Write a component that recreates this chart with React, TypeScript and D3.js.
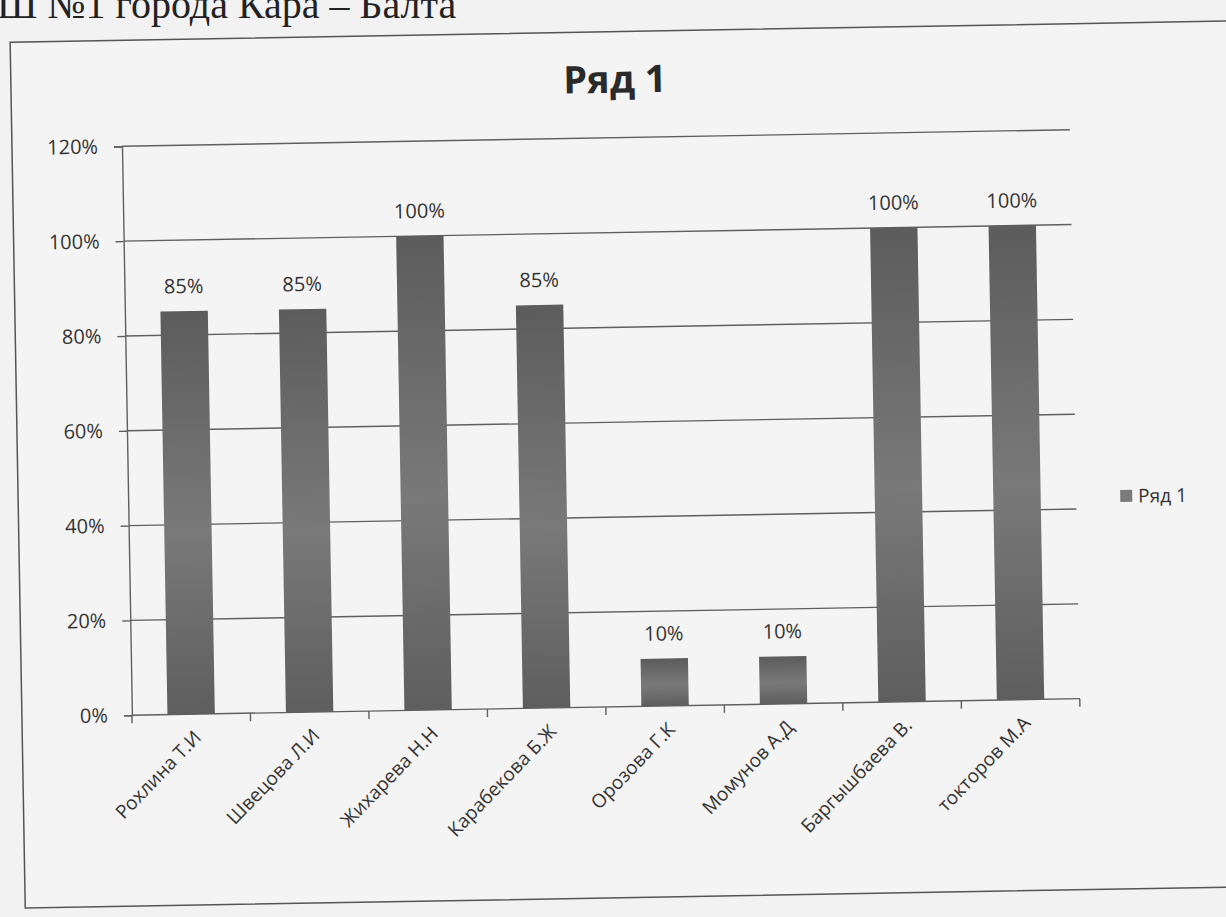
import React, { useEffect, useRef } from 'react';
import * as d3 from 'd3';

const categories = [
  'Рохлина Т.И',
  'Швецова Л.И',
  'Жихарева Н.Н',
  'Карабекова Б.Ж',
  'Орозова Г.К',
  'Момунов А.Д',
  'Баргышбаева В.',
  'токторов М.А',
];
const values = [0.85, 0.85, 1.0, 0.85, 0.1, 0.1, 1.0, 1.0];
const yTicks = [0, 0.2, 0.4, 0.6, 0.8, 1.0, 1.2];
const seriesName = 'Ряд 1';

const W = 1226;
const H = 917;
const FONT = '"Open Sans", "Noto Sans", sans-serif';
const INK = '#333';
const LINE = '#5f5f5f';

const App: React.FC = () => {
  const svgRef = useRef<SVGSVGElement | null>(null);

  useEffect(() => {
    if (!svgRef.current) return;
    const svg = d3.select(svgRef.current);
    svg.selectAll('*').remove();

    const left = 127, right = 1075, top = 138, bottom = 707;

    const x = d3.scaleBand().domain(categories).range([left, right])
      .paddingInner(0.6).paddingOuter(0.3);
    const y = d3.scaleLinear().domain([0, 1.2]).range([bottom, top]);
    const pct = d3.format('.0%');

    // paper
    svg.append('rect').attr('width', W).attr('height', H).attr('fill', '#f3f2f2');

    // scanned heading above the chart, cut at the top edge
    svg.append('text')
      .attr('x', -3).attr('y', 18)
      .attr('font-family', '"Liberation Serif", "DejaVu Serif", serif')
      .attr('font-size', 40).attr('fill', '#222')
      .text('Ш №1 города Кара – Балта');

    // the scan is slightly tilted
    const g = svg.append('g').attr('transform', 'rotate(-1, 600, 430)');

    // chart frame
    g.append('rect')
      .attr('x', 17).attr('y', 32).attr('width', 1260).attr('height', 866)
      .attr('fill', '#f5f4f4').attr('stroke', '#555').attr('stroke-width', 1.5);

    // title
    g.append('text')
      .attr('x', 621).attr('y', 93).attr('text-anchor', 'middle')
      .attr('font-family', FONT).attr('font-weight', 700).attr('font-size', 38)
      .attr('fill', '#2a2a2a').text(seriesName);

    // gridlines
    g.append('g').selectAll('line').data(yTicks.slice(1)).join('line')
      .attr('x1', left).attr('x2', right)
      .attr('y1', d => y(d)).attr('y2', d => y(d))
      .attr('stroke', LINE).attr('stroke-width', 1.4);

    // y axis
    const yAxis = g.append('g')
      .attr('transform', `translate(${left},0)`)
      .call(d3.axisLeft(y).tickValues(yTicks).tickFormat(pct).tickSize(8).tickPadding(16));
    yAxis.select('.domain').attr('stroke', LINE).attr('stroke-width', 1.4);
    yAxis.selectAll('.tick line').attr('stroke', LINE).attr('stroke-width', 1.4);
    yAxis.selectAll('.tick text')
      .attr('font-family', FONT).attr('font-size', 20).attr('fill', INK);

    // bar gradient
    const defs = svg.append('defs');
    const grad = defs.append('linearGradient').attr('id', 'barGrad')
      .attr('x1', 0).attr('x2', 0).attr('y1', 0).attr('y2', 1);
    grad.append('stop').attr('offset', '0%').attr('stop-color', '#5c5c5c');
    grad.append('stop').attr('offset', '55%').attr('stop-color', '#797979');
    grad.append('stop').attr('offset', '100%').attr('stop-color', '#5e5e5e');

    // bars
    g.append('g').selectAll('rect').data(categories).join('rect')
      .attr('x', d => x(d)!)
      .attr('width', x.bandwidth())
      .attr('y', (_, i) => y(values[i]))
      .attr('height', (_, i) => bottom - y(values[i]))
      .attr('fill', 'url(#barGrad)');

    // data labels
    g.append('g').selectAll('text').data(categories).join('text')
      .attr('x', d => x(d)! + x.bandwidth() / 2)
      .attr('y', (_, i) => y(values[i]) - 18)
      .attr('text-anchor', 'middle')
      .attr('font-family', FONT).attr('font-size', 20).attr('fill', INK)
      .text((_, i) => pct(values[i]));

    // x axis
    const step = x.step();
    const ax = g.append('g');
    ax.append('line').attr('x1', left).attr('x2', right).attr('y1', bottom).attr('y2', bottom)
      .attr('stroke', LINE).attr('stroke-width', 1.4);
    ax.selectAll('line.tk').data(d3.range(categories.length + 1)).join('line')
      .attr('class', 'tk')
      .attr('x1', i => left + i * step).attr('x2', i => left + i * step)
      .attr('y1', bottom).attr('y2', bottom + 8)
      .attr('stroke', LINE).attr('stroke-width', 1.4);
    ax.selectAll('text').data(categories).join('text')
      .attr('transform', d => `translate(${x(d)! + x.bandwidth() / 2 + 6},${bottom + 20}) rotate(-45)`)
      .attr('text-anchor', 'end')
      .attr('dy', '0.35em')
      .attr('font-family', FONT).attr('font-size', 19).attr('fill', INK)
      .text(d => d);

    // legend
    g.append('rect').attr('x', 1119).attr('y', 499).attr('width', 12).attr('height', 12)
      .attr('fill', '#7a7a7a');
    g.append('text').attr('x', 1137).attr('y', 512)
      .attr('font-family', FONT).attr('font-size', 19).attr('fill', INK)
      .text(seriesName);
  }, []);

  return (
    <svg
      ref={svgRef}
      width={W}
      height={H}
      style={{ position: 'absolute', left: 0, top: 0, display: 'block' }}
    />
  );
};

export default App;
